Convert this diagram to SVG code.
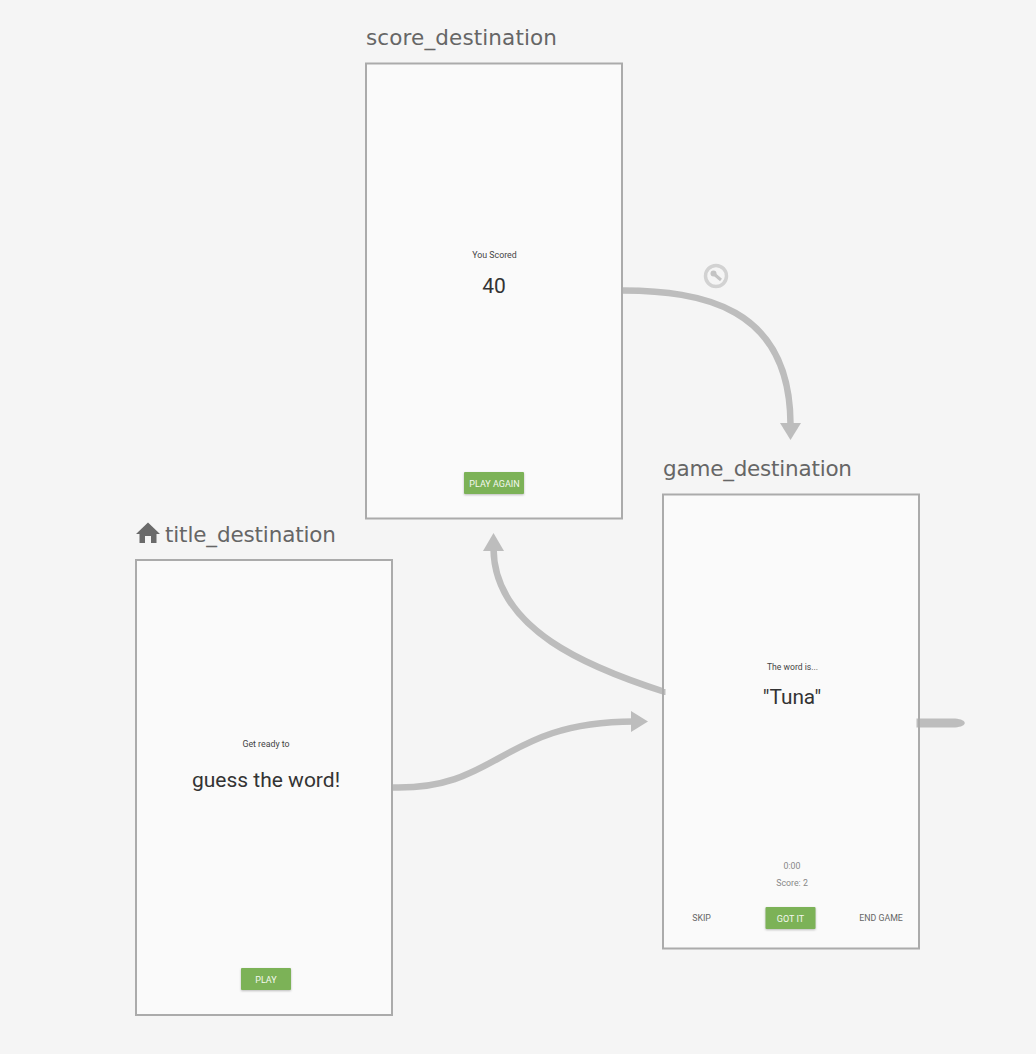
<svg xmlns="http://www.w3.org/2000/svg" width="1036" height="1054" viewBox="0 0 1036 1054">
<style>
.bg{fill:#f5f5f5}
.fill{fill:#fafafa}
.screen{fill:#fafafa;stroke:#ababab;stroke-width:2}
.border{fill:none;stroke:#ababab;stroke-width:2}
.name{font-family:"DejaVu Sans",sans-serif;font-size:21.5px;fill:#666}
.r{font-family:Roboto,sans-serif;text-anchor:middle}
.btn{fill:#7cb257;filter:drop-shadow(0 1px 1px rgba(0,0,0,.25))}
.btxt{font-family:Roboto,sans-serif;font-weight:400;font-size:9px;fill:#f4f8f0;text-anchor:middle}
.t{font-family:Roboto,sans-serif;font-size:8.800px;text-anchor:middle}
.c{fill:none;stroke:#bdbdbd;stroke-width:6.500}
.h{fill:#bdbdbd}
.nub{fill:#bdbdbd}
</style>
<defs><filter id="soft" x="-20%" y="-20%" width="140%" height="140%"><feGaussianBlur stdDeviation="0.500"/></filter></defs>
<rect class="bg" width="1036" height="1054"/>
<g id="connectors">
<path class="c" d="M623 290.500C700 291 790 305 790.500 424"/>
<polygon class="h" points="780,423 801,423 790.500,440"/>
<path class="c" d="M665 692C590 668 494 630 493.500 548"/>
<polygon class="h" points="483,551 504,551 493.500,533"/>
<path class="c" d="M393 787.500C500 790 500 722 634 721.500"/>
<polygon class="h" points="631,711 631,732 648,721.500"/>
<path d="M917 718.500H955C968 719.500 968 726.500 955 727.500H917Z" fill="#bdbdbd"/>
<g id="action-icon" filter="url(#soft)">
<circle cx="716" cy="276" r="10.500" fill="none" stroke="#d2d2d2" stroke-width="3.500"/>
<circle cx="713.500" cy="273.500" r="3" fill="#c4c4c4"/>
<path d="M714 274L721 280" stroke="#c4c4c4" stroke-width="3" fill="none"/>
</g>
</g>
<g id="score_destination">
<rect class="screen" x="366" y="63.500" width="256" height="455"/>
<text class="name" x="366" y="45" textLength="191">score_destination</text>
<text class="r" x="494.500" y="258" font-size="8.800" fill="#444">You Scored</text>
<text class="r" x="494" y="293" font-size="21" fill="#333">40</text>
<rect class="btn" x="464" y="472" width="60" height="22" rx="1"/>
<text class="btxt" x="494.500" y="487" font-size="9">PLAY AGAIN</text>
</g>
<g id="game_destination">
<rect class="fill" x="663" y="494.500" width="256" height="454"/>
<rect class="nub" x="663" y="689" width="2.500" height="6"/>
<rect class="nub" x="916.500" y="718.500" width="2.500" height="9"/>
<rect class="border" x="663" y="494.500" width="256" height="454"/>
<text class="name" x="663" y="476" textLength="189">game_destination</text>
<text class="r" x="792.500" y="670" font-size="8.600" fill="#444">The word is...</text>
<text class="r" x="792" y="704" font-size="20.800" fill="#333">"Tuna"</text>
<text class="t" x="792" y="869" fill="#888">0:00</text>
<text class="t" x="792" y="886" fill="#888">Score: 2</text>
<text class="t" x="701.500" y="921" fill="#666">SKIP</text>
<rect class="btn" x="765.500" y="907" width="50" height="22" rx="1"/>
<text class="btxt" x="790.500" y="922">GOT IT</text>
<text class="t" x="881" y="921" fill="#666">END GAME</text>
</g>
<g id="title_destination">
<rect class="screen" x="136" y="560" width="256" height="455"/>
<path d="M136 534L148 522.500L160 534H156.500V543H151V536H145V543H139.500V534Z" fill="#6a6a6a" filter="url(#soft)"/>
<text class="name" x="165" y="542" textLength="171">title_destination</text>
<text class="r" x="266" y="747" font-size="8.800" fill="#444">Get ready to</text>
<text class="r" x="266" y="786.500" font-size="21" fill="#333">guess the word!</text>
<rect class="btn" x="241" y="968" width="50" height="22" rx="1"/>
<text class="btxt" x="266" y="983">PLAY</text>
</g>
</svg>
